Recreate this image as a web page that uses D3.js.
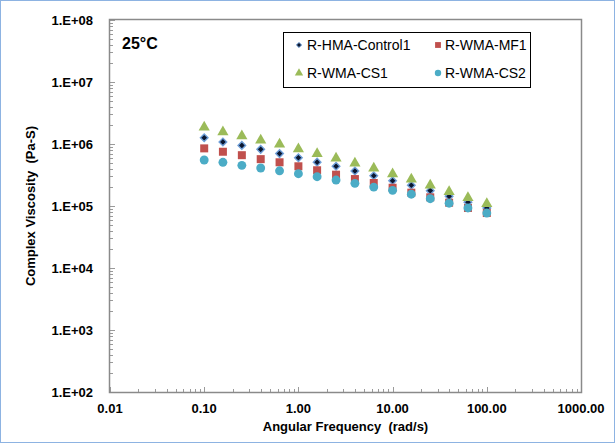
<!DOCTYPE html>
<html>
<head>
<meta charset="utf-8">
<script src="https://cdn.jsdelivr.net/npm/d3@7/dist/d3.min.js"></script>
<style>
  html, body { margin: 0; padding: 0; background: #fff; }
  svg { display: block; font-family: "Liberation Sans", Arial, sans-serif; }
  text { white-space: pre; }
</style>
</head>
<body>
<svg id="chart" width="616" height="444"></svg>
<script>
// Angular frequency sweep (rad/s)
const frequency = [0.1, 0.158, 0.251, 0.398, 0.631, 1.0, 1.58, 2.51, 3.98, 6.31, 10, 15.8, 25.1, 39.8, 63.1, 100];

// Complex viscosity (Pa·s) at 25°C
const control1 = [1.26e6, 1.08e6, 9.5e5, 8.2e5, 7.0e5, 6.0e5, 5.1e5, 4.37e5, 3.67e5, 3.08e5, 2.56e5, 2.16e5, 1.77e5, 1.43e5, 1.15e5, 9.3e4];
const mf1      = [8.5e5, 7.5e5, 6.6e5, 5.7e5, 5.07e5, 4.37e5, 3.77e5, 3.2e5, 2.72e5, 2.35e5, 1.97e5, 1.64e5, 1.38e5, 1.13e5, 9.3e4, 7.7e4];
const cs1      = [1.86e6, 1.56e6, 1.35e6, 1.15e6, 9.9e5, 8.3e5, 6.98e5, 5.88e5, 4.89e5, 4.06e5, 3.28e5, 2.70e5, 2.16e5, 1.70e5, 1.36e5, 1.09e5];
const cs2      = [5.52e5, 5.07e5, 4.53e5, 4.10e5, 3.70e5, 3.32e5, 2.97e5, 2.62e5, 2.32e5, 2.02e5, 1.79e5, 1.55e5, 1.31e5, 1.11e5, 9.3e4, 7.7e4];

const seriesNames = ["R-HMA-Control1", "R-WMA-MF1", "R-WMA-CS1", "R-WMA-CS2"];
const xTickValues = [0.01, 0.1, 1, 10, 100, 1000];
const yTickValues = [1e2, 1e3, 1e4, 1e5, 1e6, 1e7, 1e8];

const series = [
  { name: seriesNames[0], values: control1, shape: "diamond",  fill: "#0b1730", stroke: "#6f9fd8" },
  { name: seriesNames[1], values: mf1,      shape: "square",   fill: "#c0504d", stroke: "none" },
  { name: seriesNames[2], values: cs1,      shape: "triangle", fill: "#9bbb59", stroke: "none" },
  { name: seriesNames[3], values: cs2,      shape: "circle",   fill: "#4bacc6", stroke: "none" }
];

const svg = d3.select("#chart");
const W = 616, H = 444;
const plot = { left: 110, top: 20, right: 581, bottom: 392 };

// outer chart border
svg.append("rect")
  .attr("x", 0.5).attr("y", 0.5)
  .attr("width", W - 2).attr("height", H - 2)
  .attr("fill", "#fff").attr("stroke", "#8db3e2").attr("stroke-width", 1);

const x = d3.scaleLog().domain([0.01, 1000]).range([plot.left, plot.right]);
const y = d3.scaleLog().domain([1e2, 1e8]).range([plot.bottom, plot.top]);

// minor ticks for log axes (inside the frame)
function minorTicks(domain) {
  const out = [];
  const lo = Math.round(Math.log10(domain[0])), hi = Math.round(Math.log10(domain[1]));
  for (let p = lo; p < hi; p++) for (let k = 2; k <= 9; k++) out.push(k * Math.pow(10, p));
  return out;
}

const g = svg.append("g");

// x axis minor + major ticks
g.append("g").selectAll("line").data(minorTicks(x.domain())).join("line")
  .attr("x1", d => Math.round(x(d)) + 0.5).attr("x2", d => Math.round(x(d)) + 0.5)
  .attr("y1", plot.bottom).attr("y2", plot.bottom - 3)
  .attr("stroke", "#9a9a9a").attr("stroke-width", 1);
g.append("g").selectAll("line").data(xTickValues).join("line")
  .attr("x1", d => Math.round(x(d)) + 0.5).attr("x2", d => Math.round(x(d)) + 0.5)
  .attr("y1", plot.bottom).attr("y2", plot.bottom - 5)
  .attr("stroke", "#9a9a9a").attr("stroke-width", 1);

// y axis minor + major ticks
g.append("g").selectAll("line").data(minorTicks(y.domain())).join("line")
  .attr("y1", d => Math.round(y(d)) + 0.5).attr("y2", d => Math.round(y(d)) + 0.5)
  .attr("x1", plot.left).attr("x2", plot.left + 3)
  .attr("stroke", "#9a9a9a").attr("stroke-width", 1);
g.append("g").selectAll("line").data(yTickValues).join("line")
  .attr("y1", d => Math.round(y(d)) + 0.5).attr("y2", d => Math.round(y(d)) + 0.5)
  .attr("x1", plot.left).attr("x2", plot.left + 5)
  .attr("stroke", "#9a9a9a").attr("stroke-width", 1);

// plot frame
svg.append("rect")
  .attr("x", plot.left - 0.5).attr("y", plot.top - 0.5)
  .attr("width", plot.right - plot.left + 1).attr("height", plot.bottom - plot.top + 1)
  .attr("fill", "none").attr("stroke", "#8a8a8a").attr("stroke-width", 1.5);

// tick labels
const xFmt = d3.format(".2f");
svg.append("g").selectAll("text").data(xTickValues).join("text")
  .attr("x", d => x(d)).attr("y", plot.bottom + 21)
  .attr("text-anchor", "middle")
  .attr("font-size", 13).attr("font-weight", "bold").attr("fill", "#000")
  .text(d => xFmt(d));

const yFmt = d => "1.E+" + String(Math.round(Math.log10(d))).padStart(2, "0");
svg.append("g").selectAll("text").data(yTickValues).join("text")
  .attr("x", plot.left - 17).attr("y", d => y(d) + 4.5)
  .attr("text-anchor", "end")
  .attr("font-size", 13).attr("font-weight", "bold").attr("fill", "#000")
  .text(yFmt);

// axis titles
svg.append("text")
  .attr("x", (plot.left + plot.right) / 2).attr("y", 431)
  .attr("text-anchor", "middle")
  .attr("font-size", 13).attr("font-weight", "bold")
  .text("Angular Frequency  (rad/s)");

svg.append("text")
  .attr("transform", `translate(35,${(plot.top + plot.bottom) / 2}) rotate(-90)`)
  .attr("text-anchor", "middle")
  .attr("font-size", 13).attr("font-weight", "bold")
  .text("Complex Viscosity  (Pa-S)");

// temperature annotation
svg.append("text")
  .attr("x", 122).attr("y", 49)
  .attr("font-size", 16).attr("font-weight", "bold")
  .text("25°C");

// marker symbols; the diamond is a square turned 45°
function symbolPath(shape, size) {
  if (shape === "diamond") {
    const r = size;
    return `M0,${-r}L${r},0L0,${r}L${-r},0Z`;
  }
  const t = { square: d3.symbolSquare, triangle: d3.symbolTriangle, circle: d3.symbolCircle }[shape];
  return d3.symbol().type(t).size(size)();
}
const markerSize = { diamond: 3.8, square: 64, triangle: 54, circle: 62 };

const pts = svg.append("g");
series.forEach(s => {
  pts.append("g").selectAll("path").data(s.values).join("path")
    .attr("transform", (d, i) => `translate(${x(frequency[i])},${y(d)})`)
    .attr("d", symbolPath(s.shape, markerSize[s.shape]))
    .attr("fill", s.fill)
    .attr("stroke", s.stroke)
    .attr("stroke-width", s.stroke === "none" ? 0 : 1.4);
});

// legend
const leg = svg.append("g");
leg.append("rect")
  .attr("x", 283.5).attr("y", 32.5).attr("width", 247).attr("height", 55)
  .attr("fill", "#fff").attr("stroke", "#000").attr("stroke-width", 1);
const legPos = [
  { mx: 299, tx: 307, cy: 45 },
  { mx: 438, tx: 445, cy: 45 },
  { mx: 299, tx: 307, cy: 73 },
  { mx: 438, tx: 445, cy: 73 }
];
const legSize = { diamond: 2.6, square: 34, triangle: 30, circle: 32 };
series.forEach((s, i) => {
  const p = legPos[i];
  leg.append("path")
    .attr("transform", `translate(${p.mx},${p.cy})`)
    .attr("d", symbolPath(s.shape, legSize[s.shape]))
    .attr("fill", s.fill)
    .attr("stroke", s.stroke)
    .attr("stroke-width", s.stroke === "none" ? 0 : 1);
  leg.append("text")
    .attr("x", p.tx).attr("y", p.cy + 5)
    .attr("font-size", 14)
    .text(s.name);
});
</script>
</body>
</html>
